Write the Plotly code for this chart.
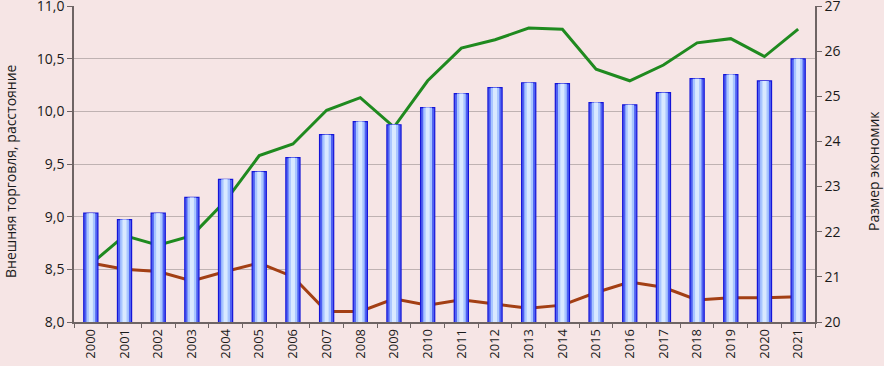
import plotly.graph_objects as go

years = [str(y) for y in range(2000, 2022)]
economy_size = [22.41, 22.27, 22.41, 22.76, 23.16, 23.33, 23.64, 24.15, 24.44, 24.37, 24.75,
                25.06, 25.19, 25.30, 25.28, 24.86, 24.81, 25.08, 25.39, 25.48, 25.34, 25.83]
foreign_trade = [8.55, 8.82, 8.73, 8.82, 9.15, 9.58, 9.69, 10.01, 10.13, 9.85, 10.29,
                 10.60, 10.68, 10.79, 10.78, 10.40, 10.29, 10.44, 10.65, 10.69, 10.52, 10.78]
distance = [8.56, 8.50, 8.48, 8.39, 8.48, 8.56, 8.43, 8.10, 8.10, 8.22, 8.16,
            8.21, 8.17, 8.13, 8.16, 8.28, 8.38, 8.33, 8.21, 8.23, 8.23, 8.24]

left_ticks = [8.0, 8.5, 9.0, 9.5, 10.0, 10.5, 11.0]
right_ticks = [20, 21, 22, 23, 24, 25, 26, 27]
left_title = "Внешняя торговля, расстояние"
right_title = "Размер экономик"

font = dict(family="Open Sans, Liberation Sans, sans-serif", size=14, color="#1a1a1a")

fig = go.Figure()
# bars (outer dark, inner light for gradient look) on right axis
fig.add_trace(go.Bar(x=years, y=economy_size, yaxis="y2", width=0.42,
                     base=0, marker=dict(color="#4F62F2", line=dict(color="#1414D8", width=1.2)),
                     showlegend=False, hoverinfo="skip"))
fig.add_trace(go.Bar(x=years, y=economy_size, yaxis="y2", width=0.26,
                     base=0, marker=dict(color="#A9C6FF", line=dict(width=0)),
                     showlegend=False, hoverinfo="skip"))
fig.add_trace(go.Bar(x=years, y=economy_size, yaxis="y2", width=0.12,
                     base=0, marker=dict(color="#D9E9FF", line=dict(width=0)),
                     showlegend=False))
fig.add_trace(go.Scatter(x=years, y=foreign_trade, mode="lines",
                         line=dict(color="#1F8A1F", width=3), showlegend=False))
fig.add_trace(go.Scatter(x=years, y=distance, mode="lines",
                         line=dict(color="#A33F14", width=3), showlegend=False))

fig.update_layout(
    width=884, height=366,
    margin=dict(l=74, r=69, t=6, b=44),
    paper_bgcolor="#F6E5E5", plot_bgcolor="#F6E5E5",
    barmode="overlay",
    separators=", ",
    font=font,
    xaxis=dict(type="category", tickangle=-90, showgrid=False, automargin=False,
               showline=True, linecolor="#6E6464", linewidth=1.5,
               ticks="outside", tickson="boundaries", ticklen=4, tickcolor="#6E6464",
               tickfont=dict(size=13)),
    yaxis=dict(range=[8.0, 11.0], tickvals=left_ticks, tickformat=".1f",
               automargin=False, ticklabeloverflow="allow",
               showgrid=True, gridcolor="#BFB2B2", gridwidth=1,
               showline=True, linecolor="#6E6464", linewidth=1.5,
               ticks="outside", ticklen=5, tickcolor="#6E6464",
               zeroline=False),
    yaxis2=dict(range=[20, 27], tickvals=right_ticks, overlaying="y", side="right",
                automargin=False, ticklabeloverflow="allow",
                showgrid=False, showline=True, linecolor="#6E6464", linewidth=1.5,
                ticks="outside", ticklen=5, tickcolor="#6E6464", zeroline=False),
    annotations=[
        dict(text=left_title, xref="paper", yref="paper", x=0, y=0.5, xshift=-64, yshift=-7,
             textangle=-90, showarrow=False, xanchor="center", yanchor="middle",
             font=dict(size=14)),
        dict(text=right_title, xref="paper", yref="paper", x=1, y=0.5, xshift=58, yshift=-7,
             textangle=-90, showarrow=False, xanchor="center", yanchor="middle",
             font=dict(size=14)),
    ],
)

fig.write_html("out.html", config={"displayModeBar": False},
               post_script="document.body.style.margin='0px';document.body.style.overflow='hidden';")
